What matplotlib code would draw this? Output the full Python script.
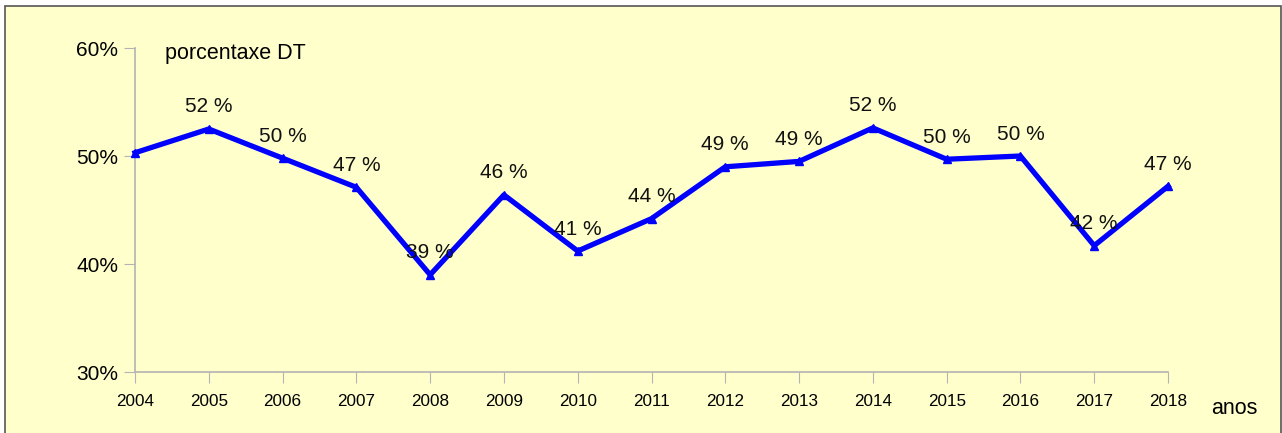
import matplotlib.pyplot as plt
from matplotlib.patches import Rectangle
from matplotlib.ticker import FuncFormatter

plt.rcParams['font.family'] = ['Liberation Sans', 'DejaVu Sans']

years = [2004, 2005, 2006, 2007, 2008, 2009, 2010, 2011, 2012, 2013, 2014, 2015, 2016, 2017, 2018]
pct = [50.3, 52.5, 49.8, 47.1, 39.0, 46.4, 41.2, 44.2, 49.0, 49.5, 52.6, 49.7, 50.0, 41.7, 47.2]
labels = [None, '52 %', '50 %', '47 %', '39 %', '46 %', '41 %', '44 %', '49 %', '49 %',
          '52 %', '50 %', '50 %', '42 %', '47 %']

bg = '#ffffcc'
fig = plt.figure(figsize=(12.82, 4.33), dpi=100)
fig.patch.set_facecolor('white')
# chart frame
fig.patches.append(Rectangle((4.5/1282, -0.01), 1276.5/1282, 1 - 5.5/433 + 0.01,
                             transform=fig.transFigure, facecolor=bg,
                             edgecolor='#555555', linewidth=1.2, zorder=-5))

ax = fig.add_axes([135/1282, 1 - 372/433, (1168-135)/1282, (372-48)/433])
ax.set_facecolor('none')
ax.plot(years, pct, color='#0000ff', linewidth=3.8, marker='^', markersize=6,
        clip_on=False, zorder=3)
for x, y, t in zip(years, pct, labels):
    if t:
        ax.annotate(t, (x, y), xytext=(0, 9), textcoords='offset points',
                    ha='center', va='bottom', fontsize=15, color='#111111', zorder=4)

ax.set_xlim(2004, 2018)
ax.set_ylim(30, 60)
ax.set_xticks(years)
ax.set_yticks([30, 40, 50, 60])
ax.yaxis.set_major_formatter(FuncFormatter(lambda v, p: '%d%%' % v))
ax.tick_params(axis='x', length=8, color='#b3b3b3', labelsize=12.3, pad=7.5)
ax.tick_params(axis='y', length=8, color='#b3b3b3', labelsize=15, pad=4)
for s in ['top', 'right']:
    ax.spines[s].set_visible(False)
for s in ['left', 'bottom']:
    ax.spines[s].set_color('#b3b3b3')
    ax.spines[s].set_linewidth(1.2)

fig.text(165/1282, 1 - 53/433, 'porcentaxe DT', fontsize=15.5, ha='left', va='center')
fig.text(1234/1282, 1 - 408/433, 'anos', fontsize=15.5, ha='center', va='center')

fig.savefig('out.png', dpi=100, facecolor='white')
